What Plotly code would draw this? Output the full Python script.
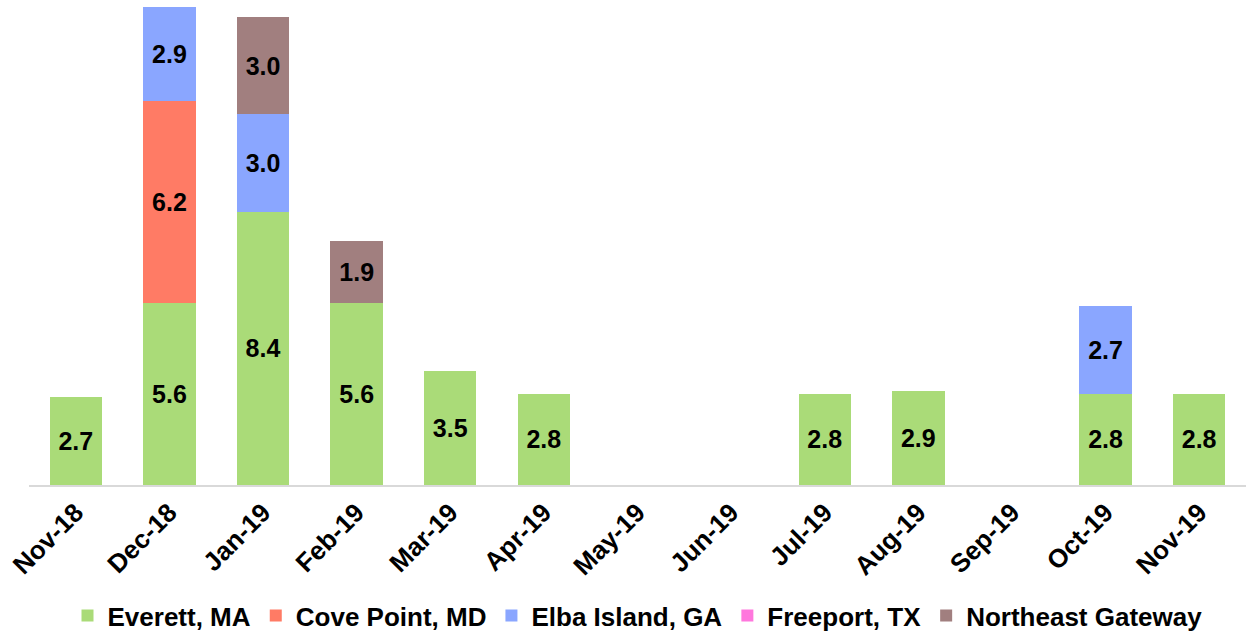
import plotly.graph_objects as go

months = ["Nov-18", "Dec-18", "Jan-19", "Feb-19", "Mar-19", "Apr-19", "May-19",
          "Jun-19", "Jul-19", "Aug-19", "Sep-19", "Oct-19", "Nov-19"]
everett = [2.7, 5.6, 8.4, 5.6, 3.5, 2.8, None, None, 2.8, 2.9, None, 2.8, 2.8]
cove_point = [None, 6.2, None, None, None, None, None, None, None, None, None, None, None]
elba_island = [None, 2.9, 3.0, None, None, None, None, None, None, None, None, 2.7, None]
freeport = [None] * 13
northeast_gateway = [None, None, 3.0, 1.9, None, None, None, None, None, None, None, None, None]

series = [
    ("Everett, MA", everett, "#AADB78"),
    ("Cove Point, MD", cove_point, "#FF7B65"),
    ("Elba Island, GA", elba_island, "#8AA6FF"),
    ("Freeport, TX", freeport, "#FF77DD"),
    ("Northeast Gateway", northeast_gateway, "#A17F7F"),
]

FONT = "Liberation Sans, Arial, sans-serif"

fig = go.Figure()
for name, vals, color in series:
    fig.add_trace(go.Bar(
        x=months, y=vals, name=name,
        marker=dict(color=color, line=dict(width=0)),
        texttemplate="%{y:.1f}", textposition="inside",
        insidetextanchor="middle", textangle=0,
        constraintext="none",
        textfont=dict(family=FONT, size=25, color="black", weight="bold"),
    ))

fig.update_layout(
    barmode="stack",
    bargap=0.44,
    width=1256, height=633,
    margin=dict(l=29, r=10, t=7, b=148, autoexpand=False),
    plot_bgcolor="white", paper_bgcolor="white",
    font=dict(family=FONT, size=26, color="black", weight="bold"),
    xaxis=dict(
        tickangle=-45, showline=True, linecolor="#D9D9D9", linewidth=2,
        ticks="", showgrid=False, automargin=False,
        tickfont=dict(family=FONT, size=26, color="black", weight="bold"),
    ),
    yaxis=dict(range=[0, 14.7], visible=False, showgrid=False),
    legend=dict(
        orientation="h", x=0.5, xanchor="center", y=-0.273, yanchor="middle",
        font=dict(family=FONT, size=26, color="black", weight="bold"),
        itemwidth=30, traceorder="normal",
    ),
    showlegend=True,
)

fig.write_html("out.html", config={"displayModeBar": False},
               post_script="document.body.style.margin='0';")
